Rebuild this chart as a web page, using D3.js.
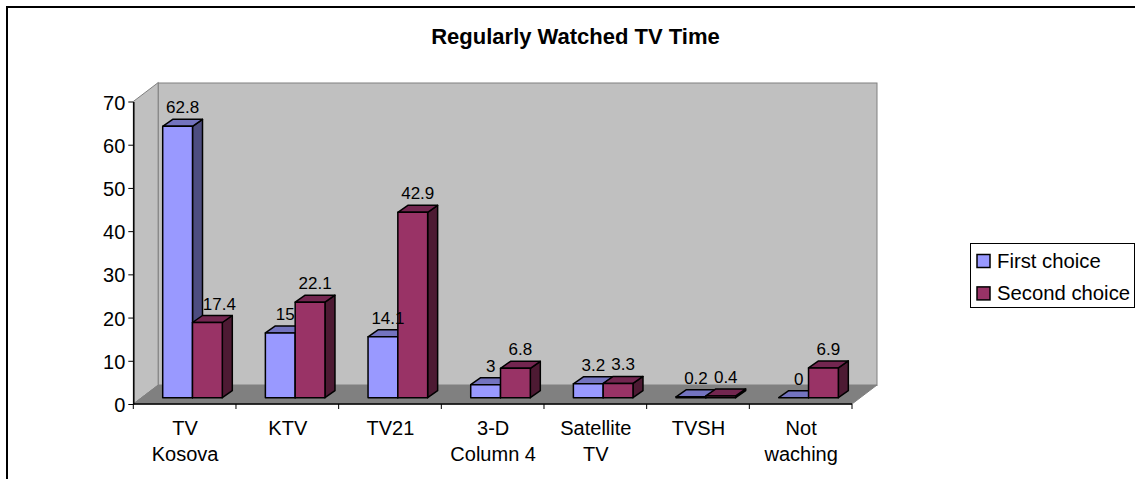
<!DOCTYPE html>
<html>
<head>
<meta charset="utf-8">
<title>Regularly Watched TV Time</title>
<script src="https://cdn.jsdelivr.net/npm/d3@7"></script>
<style>
    html, body { margin: 0; padding: 0; background: #fff; overflow: hidden; }
    svg { display: block; }
    text { font-family: "Liberation Sans", Arial, sans-serif; fill: #000; }
</style>
</head>
<body>
<div id="chart"></div>
<script>
var categories = ["TV\nKosova", "KTV", "TV21", "3-D\nColumn 4", "Satellite\nTV", "TVSH", "Not\nwaching"];
var firstChoice = [62.8, 15, 14.1, 3, 3.2, 0.2, 0];
var secondChoice = [17.4, 22.1, 42.9, 6.8, 3.3, 0.4, 6.9];
var yTicks = [0, 10, 20, 30, 40, 50, 60, 70];
var seriesNames = ["First choice", "Second choice"];

var width = 1135, height = 479;

var plot = { left: 133.3, right: 852, top: 101.5, bottom: 404 },
    wallDx = 25,
    wallDy = 19,
    barDx = 10,     // depth of a single bar
    barDy = 7,
    baseDy = 6.3,   // bars stand a little way into the floor
    barInset = 29.4,
    barWidth = 29.8;

var colors = [
    { front: "#9999ff", side: "#4d4d80", top: "#7373bf" },
    { front: "#993366", side: "#4d1a33", top: "#732650" }
];

var x = d3.scaleBand().domain(d3.range(categories.length)).range([plot.left, plot.right]);
var y = d3.scaleLinear().domain([0, 70]).range([plot.bottom, plot.top]);

var svg = d3.select("#chart").append("svg")
    .attr("width", width)
    .attr("height", height);

// outer chart border, runs off the bottom and right of the picture
svg.append("rect")
    .attr("x", 7).attr("y", 7)
    .attr("width", width + 20).attr("height", height + 20)
    .attr("fill", "#fff").attr("stroke", "#000").attr("stroke-width", 2);

svg.append("text")
    .attr("x", 575.5).attr("y", 44)
    .attr("text-anchor", "middle")
    .style("font-size", "22px").style("font-weight", "bold")
    .text("Regularly Watched TV Time");

var poly = function(pts) {
    return pts.map(function(p) { return p.join(","); }).join(" ");
};

// walls and floor
var g = svg.append("g");
g.append("polygon")
    .attr("points", poly([[plot.left, plot.bottom], [plot.left + wallDx, plot.bottom - wallDy],
        [plot.left + wallDx, plot.top - wallDy], [plot.left, plot.top]]))
    .attr("fill", "#c0c0c0").attr("stroke", "#808080");
g.append("rect")
    .attr("x", plot.left + wallDx).attr("y", plot.top - wallDy + 0.5)
    .attr("width", plot.right - plot.left)
    .attr("height", plot.bottom - plot.top)
    .attr("fill", "#c0c0c0").attr("stroke", "#808080");
g.append("polygon")
    .attr("points", poly([[plot.left, plot.bottom], [plot.right, plot.bottom],
        [plot.right + wallDx, plot.bottom - wallDy], [plot.left + wallDx, plot.bottom - wallDy]]))
    .attr("fill", "#808080").attr("stroke", "#808080");

// bars
var drawBar = function(value, cat, s) {
    var x0 = x(cat) + barInset + s * barWidth,
        x1 = x0 + barWidth,
        yb = y(0) - baseDy,
        yt = y(value) - baseDy;
    var bar = g.append("g")
        .attr("stroke", "#000").attr("stroke-width", 1.5).attr("stroke-linejoin", "round");
    bar.append("polygon")
        .attr("points", poly([[x1, yt], [x1 + barDx, yt - barDy], [x1 + barDx, yb - barDy], [x1, yb]]))
        .attr("fill", colors[s].side);
    bar.append("polygon")
        .attr("points", poly([[x0, yt], [x0 + barDx, yt - barDy], [x1 + barDx, yt - barDy], [x1, yt]]))
        .attr("fill", colors[s].top);
    bar.append("rect")
        .attr("x", x0).attr("y", yt)
        .attr("width", barWidth).attr("height", yb - yt)
        .attr("fill", colors[s].front);
};

[firstChoice, secondChoice].forEach(function(values, s) {
    values.forEach(function(v, i) { drawBar(v, i, s); });
});

// value labels go on top of the bars
[firstChoice, secondChoice].forEach(function(values, s) {
    svg.append("g").selectAll("text")
        .data(values)
        .enter().append("text")
        .attr("x", function(d, i) {
            var cx = x(i) + barInset + s * barWidth + barWidth / 2 + barDx / 2;
            // a second bar behind a much taller first one has its label pushed clear of it
            if (s == 1 && firstChoice[i] - d > 10) { cx += 7; }
            return cx;
        })
        .attr("y", function(d) { return y(d) - baseDy - barDy - 6; })
        .attr("text-anchor", "middle")
        .style("font-size", "17px")
        .text(function(d) { return d; });
});

// axes
var yAxis = svg.append("g")
    .attr("transform", "translate(" + plot.left + ",0)")
    .call(d3.axisLeft(y).tickValues(yTicks).tickSize(5).tickSizeOuter(0).tickPadding(3));
yAxis.attr("font-family", null);
yAxis.selectAll("text").style("font-size", "20px").attr("dy", "0.38em");
yAxis.select(".domain").attr("stroke-width", 1.5);

var xAxis = svg.append("g")
    .attr("transform", "translate(0," + plot.bottom + ")")
    .call(d3.axisBottom(x).tickSize(0).tickFormat(function() { return ""; }));
xAxis.attr("font-family", null);
xAxis.select(".domain").remove();

xAxis.append("line")
    .attr("x1", plot.left).attr("x2", plot.right)
    .attr("stroke", "#000").attr("stroke-width", 1.5);

// ticks fall between the categories, not at the band centres
xAxis.selectAll(".edge")
    .data(d3.range(categories.length + 1))
    .enter().append("line")
    .attr("class", "edge")
    .attr("x1", function(d) { return plot.left + d * x.step(); })
    .attr("x2", function(d) { return plot.left + d * x.step(); })
    .attr("y2", 5)
    .attr("stroke", "#000");

categories.forEach(function(c, i) {
    c.split("\n").forEach(function(line, j) {
        svg.append("text")
            .attr("x", x(i) + x.bandwidth() / 2 + 0.5)
            .attr("y", 435 + j * 25.5)
            .attr("text-anchor", "middle")
            .style("font-size", "20px")
            .text(line);
    });
});

// legend
var legend = svg.append("g");
legend.append("rect")
    .attr("x", 970.5).attr("y", 243.5)
    .attr("width", 164).attr("height", 64)
    .attr("fill", "#fff").attr("stroke", "#000");
seriesNames.forEach(function(name, i) {
    legend.append("rect")
        .attr("x", 977).attr("y", 254.5 + i * 32.4)
        .attr("width", 13).attr("height", 13)
        .attr("fill", colors[i].front).attr("stroke", "#000").attr("stroke-width", 1.5);
    legend.append("text")
        .attr("x", 997).attr("y", 268 + i * 32)
        .style("font-size", "20.3px")
        .text(name);
});
</script>
</body>
</html>
